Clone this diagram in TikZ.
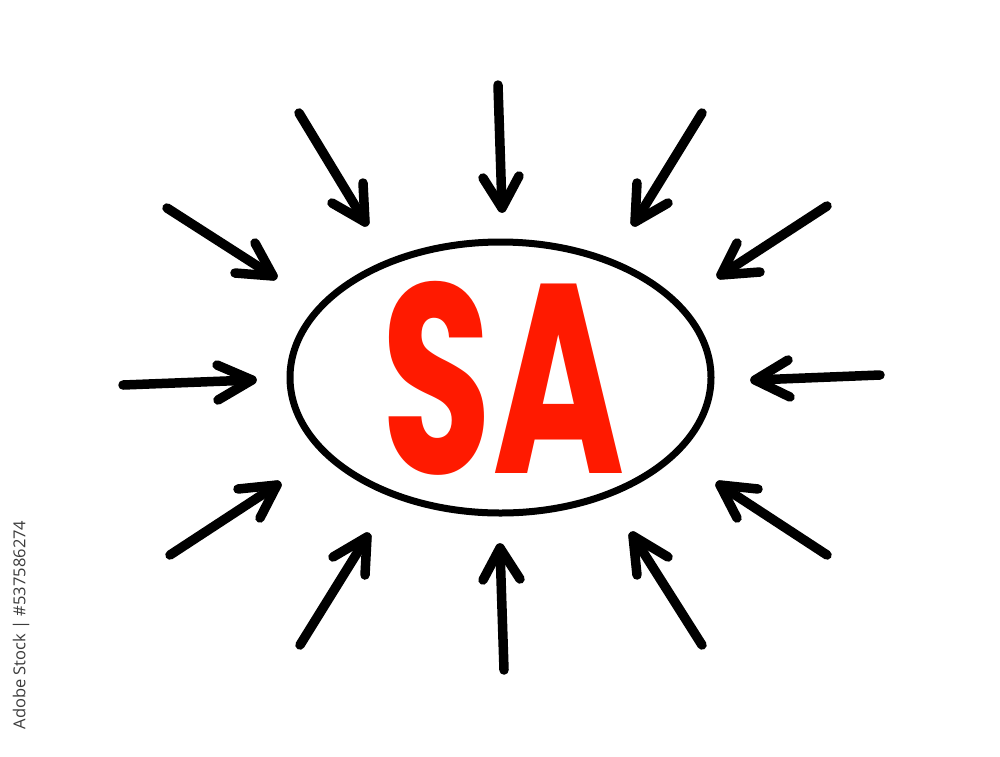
\documentclass[tikz,border=0pt]{standalone}
\usepackage{fontspec}
\setmainfont{Poppins}
\newfontfamily\wmfont{Open Sans}
\usetikzlibrary{calc,shapes.geometric}
\definecolor{sared}{RGB}{255,26,0}
\definecolor{wmgray}{RGB}{60,60,60}
\tikzset{
  arrowline/.style={line width=9.5pt, line cap=round, line join=round, black},
  ringline/.style={line width=7pt, black},
  bigtext/.style={text=sared, font=\fontsize{100}{100}\selectfont\bfseries, inner sep=0pt},
  idtext/.style={text=wmgray, font=\wmfont\fontsize{16.5}{16.5}\selectfont, rotate=90, inner sep=0pt}
}
\begin{document}
\begin{tikzpicture}[x=1pt,y=-1pt]
\useasboundingbox[fill=white] (0,0) rectangle (1000,756);
% central ellipse
\node[ringline, draw, ellipse, minimum width=421pt, minimum height=271pt, inner sep=0pt] (ring) at (500.5,377.5) {};
\node[bigtext, xscale=1.8, yscale=2.7] (sa) at (503,378) {SA};
% arrows: tail, tip, barb a, barb b
\foreach \n/\tx/\ty/\hx/\hy/\ax/\ay/\bx/\by in {
  1/299/113/365/222/363/183/332/203,
  2/167/208/273/276/255/243/235/273,
  3/498/85/502/208/483/178/519/176,
  4/702/113/635/222/637/183/668/203,
  5/827/206/721/275/737/243/760/272,
  6/123/385/252/380/217/365/218/400,
  7/880/375/755/380/788/360/790/397,
  8/170/555/277/485/238/489/260/518,
  9/300/645/367/537/333/557/365/575,
  10/504/670/500/548/483/580/520/579,
  11/702/645/633/536/668/557/637/575,
  12/827/555/720/485/758/489/737/518}{
  \coordinate (t\n) at (\tx,\ty);
  \coordinate (h\n) at (\hx,\hy);
  \coordinate (a\n) at (\ax,\ay);
  \coordinate (b\n) at (\bx,\by);
  \draw[arrowline] (t\n) -- (h\n);
  \draw[arrowline] (a\n) -- (h\n) -- (b\n);
}
\node[idtext] (id) at (21,625) {Adobe Stock | \#537586274};
\end{tikzpicture}
\end{document}
